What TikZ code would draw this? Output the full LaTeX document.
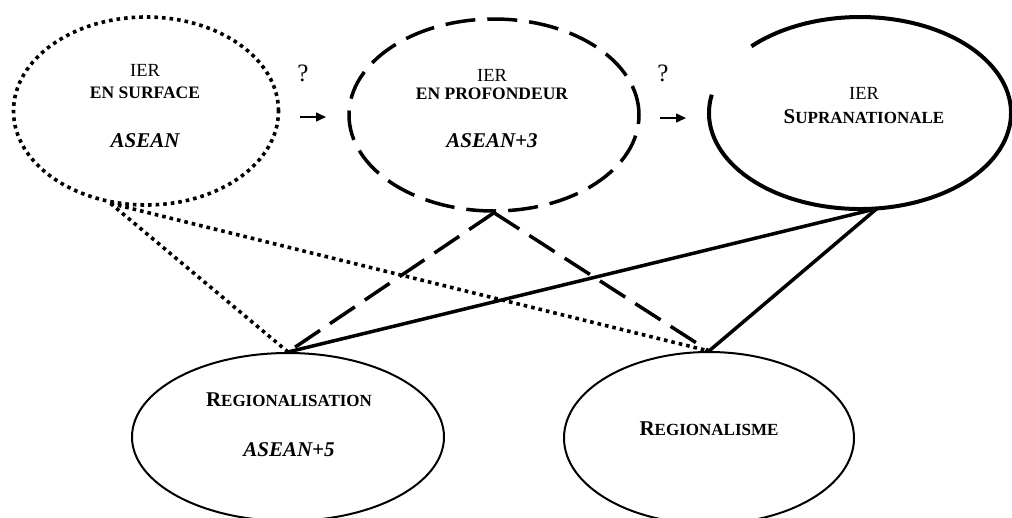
\documentclass[tikz,border=0pt]{standalone}
\usepackage{fontspec}
\setmainfont{Liberation Serif}
\usetikzlibrary{shapes.geometric,arrows.meta}
\newcommand{\pcap}[2]{{\fontsize{21}{22}\selectfont #1}{\fontsize{17}{22}\selectfont #2}}

\begin{document}
\begin{tikzpicture}
		[x=1pt,y=-1pt,
			myell/.style={ellipse,inner sep=0pt},
			mytext/.style={align=center,font=\fontsize{17.5}{22}\selectfont\bfseries},
			dotline/.style={line width=3.6pt,dash pattern=on 3.6pt off 4pt},
			dashline/.style={line width=3.5pt,dash pattern=on 30pt off 12pt},
			fullline/.style={line width=3.5pt},
			myarrow/.style={-{Triangle[length=10pt,width=9pt]},line width=1.5pt}]
	\clip (0,0) rectangle (1012,517);
	% top row
	\node[myell,draw,dotline,minimum width=265pt,minimum height=188pt,name=e1] at (146,111) {};
	\node[myell,draw,dashline,minimum width=290pt,minimum height=192pt,name=e2] at (494,115) {};
	\node[myell,minimum width=302pt,minimum height=192pt,name=e3] at (860,113) {};
	\draw[line width=4pt] (e3.center) ++(169:151pt and 96pt)
		arc[start angle=169,end angle=496,x radius=151pt,y radius=96pt];
	% bottom row
	\node[myell,draw,line width=2pt,minimum width=312pt,minimum height=168pt,name=e4] at (288,437) {};
	\node[myell,draw,line width=2pt,minimum width=290pt,minimum height=172pt,name=e5] at (709,438) {};
	% texts
	\node[mytext,name=t1] at (145,106)
		{{\mdseries\fontsize{18.5}{22}\selectfont IER}\\EN SURFACE\\[27pt]{\itshape\fontsize{21}{22}\selectfont ASEAN}};
	\node[mytext,name=t2] at (492,109)
		{{\mdseries\fontsize{18.5}{22}\selectfont IER}\\[-4pt]EN PROFONDEUR\\[26pt]{\itshape\fontsize{21}{22}\selectfont ASEAN+3}};
	\node[mytext,name=t3] at (864,106)
		{{\mdseries\fontsize{18.5}{22}\selectfont IER}\\[2pt]\pcap{S}{UPRANATIONALE}};
	\node[mytext,name=t4] at (289,425)
		{\pcap{R}{EGIONALISATION}\\[28pt]{\itshape\fontsize{21}{22}\selectfont ASEAN+5}};
	\node[mytext,name=t5] at (709,429) {\pcap{R}{EGIONALISME}};
	% question marks
	\node[font=\fontsize{25}{26}\selectfont,name=q1] at (303,73) {?};
	\node[font=\fontsize{25}{26}\selectfont,name=q2] at (663,73) {?};
	\coordinate (a1) at (300,117);
	\coordinate (b1) at (326,117);
	\coordinate (a2) at (660,118);
	\coordinate (b2) at (686,118);
	\draw[myarrow] (a1) -- (b1);
	\draw[myarrow] (a2) -- (b2);
	% links
	\foreach \b in {e4,e5}
	{
		\draw[dotline] (e1.249) -- (\b.north);
		\draw[dashline] (e2.south) -- (\b.north);
		\draw[fullline] (e3.280) -- (\b.north);
	}
\end{tikzpicture}
\end{document}
